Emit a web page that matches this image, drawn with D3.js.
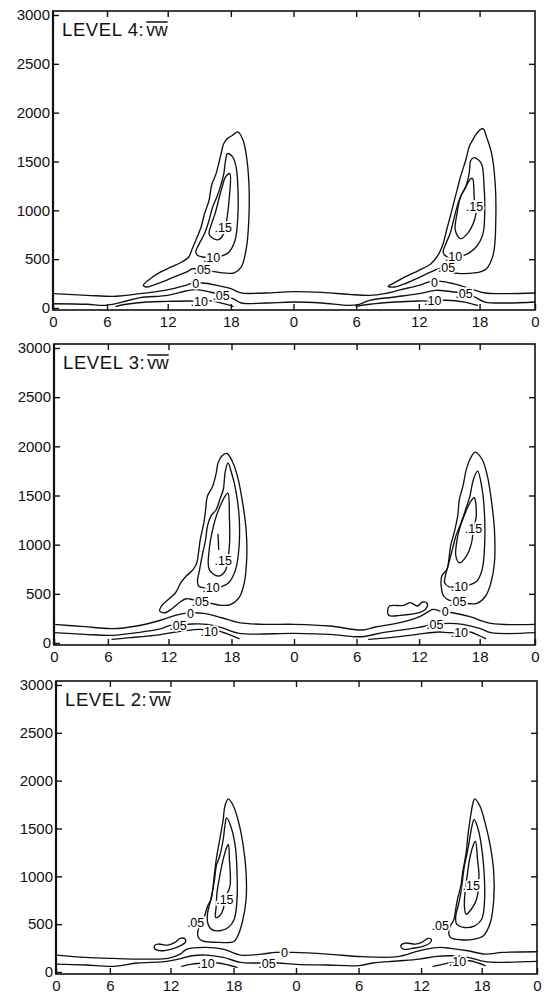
<!DOCTYPE html>
<html lang="en">
<head>
<meta charset="UTF-8">
<title>LEVEL 4, 3, 2: vw</title>
<style>
  body { margin: 0; background: #fff; }
  svg { display: block; }
  .frame { fill: none; stroke: #111; stroke-width: 1.6; }
  .contour { fill: none; stroke: #111; stroke-width: 1.35; stroke-linejoin: round; stroke-linecap: round; }
  .axis path { display: none; }
  .axis line { stroke: #111; stroke-width: 1.4; }
  .axis text { font-family: 'Liberation Sans', Arial, sans-serif; font-size: 15px; fill: #111; }
  .clabel { font-family: 'Liberation Sans', Arial, sans-serif; font-size: 12.5px; fill: #000; }
  .title { font-family: 'Liberation Sans', Arial, sans-serif; fill: #111; }
</style>
</head>
<body>
<div id="chart"></div>
<script src="https://d3js.org/d3.v7.min.js"></script>
<script>
// axis values
const hourTicks = [0, 6, 12, 18, 24, 30, 36, 42, 48];
const heightTicks = [0, 500, 1000, 1500, 2000, 2500, 3000];

// ---- LEVEL 4 : contours as [hour, height m] ----
const l4Zero = [[0,147],[3.8,130],[6.9,120],[9.3,147],[11.7,181],[13.7,232],[14.2,249],[15.3,256],[16.7,232],[18,198],[19,154],[21.3,154],[24,167],[26.7,160],[29.3,140],[31.3,130],[32.7,147],[34.3,188],[36,232],[37,266],[38.2,273],[39.4,249],[41.1,198],[42.6,154],[44.8,147],[48,154]];
const l4Neg05 = [[0,44],[3.8,38],[5.8,27],[7.5,61],[9.3,106],[12,130],[13.7,174],[14.7,188],[16,164],[17.1,130],[18.2,96],[19,51],[21.3,51],[24,61],[26.7,51],[29.3,27],[30.3,38],[31.3,79],[33.7,113],[36,147],[37.7,181],[38.7,174],[40.5,147],[41.5,113],[42.6,61],[44.8,51],[48,61]];
const l4Neg10a = [[6.9,17],[7.9,38],[9.9,61],[12,68],[14,72],[15,68],[16.2,72],[17.3,44],[18.2,17]];
const l4Neg10b = [[30,17],[31.3,38],[33.7,61],[36,72],[37.4,72],[38.7,79],[40.5,61],[41.8,27]];
const l4Out05a = [[16,379],[17.33,359],[18.33,359],[19,420],[19.5,625],[19.73,932],[19.73,1274],[19.5,1547],[19.17,1718],[18.67,1803],[18.17,1769],[17.67,1735],[17.33,1684],[17,1547],[16.6,1376],[16.17,1257],[15.93,1103],[15.5,966],[15.17,830],[14.67,693],[14.27,591],[14,522],[13.33,471],[12.33,420],[11.31,369],[10.28,300],[9.6,232],[9.93,215],[10.79,242],[12,290],[13,335],[13.83,369],[14.33,400],[15.27,393],[16,379]];
const l4In10a = [[17,529],[17.83,574],[18.4,693],[18.67,932],[18.67,1240],[18.5,1445],[18.17,1547],[17.67,1581],[17.5,1513],[17.33,1376],[17,1240],[16.67,1137],[16.27,1035],[15.93,898],[15.5,762],[15,659],[14.67,574],[14.83,540],[15.33,522],[16.17,522],[17,529]];
const l4In15a = [[17.9,1376],[17.83,1103],[17.6,898],[17.33,762],[16.83,700],[16.17,721],[15.93,762],[16.17,864],[16.5,966],[16.83,1103],[17.17,1240],[17.5,1342],[17.9,1376]];
const l4Out05b = [[39.11,369],[41.49,359],[42.75,403],[43.5,557],[43.76,932],[43.69,1274],[43.31,1581],[42.75,1752],[42.37,1837],[41.83,1803],[41.31,1718],[40.97,1650],[40.63,1513],[40.11,1342],[39.77,1205],[39.43,1069],[39.09,932],[38.74,796],[38.4,659],[37.99,557],[37.2,454],[36,386],[34.67,318],[33.5,249],[33.07,222],[33.67,215],[34.83,256],[36,311],[37.2,369],[37.89,400],[38.74,410],[39.11,369]];
const l4In10b = [[40.46,540],[41.66,625],[42.37,762],[42.56,1035],[42.49,1240],[42.19,1479],[41.49,1540],[41.14,1513],[40.97,1376],[40.63,1240],[40.11,1137],[39.77,1035],[39.43,898],[39.09,762],[38.67,659],[38.4,574],[38.57,540],[38.91,522],[39.43,529],[40.46,540]];
const l4In15b = [[41.31,1325],[41.49,1103],[41.66,1000],[41.49,898],[40.8,762],[40.11,710],[39.6,796],[39.77,966],[40.11,1137],[40.63,1240],[41.14,1325],[41.31,1325]];
const l4Labels = [[17.27,820,".15"],[16.17,522,".10"],[15.27,393,".05"],[14.67,249,"0"],[17.07,130,".05"],[15,68,".10"],
                  [41.49,1035,".15"],[39.43,529,".10"],[38.74,410,".05"],[37.54,266,"0"],[40.46,147,".05"],[37.37,72,".10"]];

// ---- LEVEL 3 ----
const l3Zero = [[0,190],[3.42,166],[6.42,146],[8.86,173],[11.3,234],[12.67,281],[13.52,301],[14.36,308],[15.37,301],[17.06,257],[18.73,207],[21.07,190],[24,190],[27.46,173],[30.5,132],[31.83,163],[34.17,207],[36.17,274],[37.39,342],[38.08,325],[39.3,308],[41.03,268],[43.22,200],[48,190]];
const l3Neg05 = [[0,105],[3.42,88],[6.42,78],[8.86,105],[11.3,146],[12.17,180],[13.18,180],[14.19,193],[15.71,190],[17.06,156],[18.73,98],[24,98],[27.46,88],[30.5,64],[32.5,105],[35.83,156],[37.56,190],[38.95,200],[40.34,190],[42.08,146],[43.22,105],[48,105]];
const l3Neg10a = [[6.42,37],[8.16,54],[10.6,78],[13.35,122],[15.03,139],[15.88,122],[16.72,122],[17.73,88],[18.73,44]];
const l3Neg10b = [[31.17,37],[33.17,54],[35.83,88],[37.91,112],[38.95,105],[39.99,105],[41.03,112],[41.9,78],[42.65,44]];
const l3Out05a = [[16.04,403],[17.06,383],[17.9,390],[18.73,461],[19.23,613],[19.47,884],[19.4,1155],[19.07,1426],[18.57,1697],[18.07,1849],[17.56,1927],[17.06,1900],[16.72,1832],[16.55,1731],[16.21,1595],[15.71,1494],[15.54,1358],[15.37,1223],[15.03,1053],[14.86,918],[14.7,816],[14.36,749],[13.69,681],[13.18,613],[12.67,511],[12,444],[11.3,376],[11.13,325],[11.65,308],[12.34,349],[13.01,410],[13.69,450],[14.36,440],[15.03,427],[16.04,403]];
const l3In10a = [[16.89,569],[17.73,613],[18.4,749],[18.73,986],[18.73,1290],[18.4,1561],[18,1731],[17.66,1832],[17.39,1731],[17.22,1561],[16.89,1460],[16.55,1358],[16.04,1290],[15.71,1189],[15.54,1053],[15.2,884],[14.97,749],[14.76,630],[14.86,579],[15.3,562],[16.04,562],[16.89,569]];
const l3In15a = [[17.66,1527],[17.8,1290],[17.8,986],[17.39,732],[16.72,681],[15.88,749],[15.88,952],[16.21,1155],[16.55,1290],[17.06,1426],[17.39,1494],[17.66,1527]];
const l3Core = [[16.72,1104],[16.78,952]];
const l3Out05b = [[40.68,403],[41.72,403],[42.65,478],[43.22,613],[43.6,816],[43.6,1155],[43.3,1426],[42.84,1697],[42.27,1866],[41.55,1941],[41.03,1866],[40.68,1765],[40.34,1595],[39.99,1460],[39.82,1290],[39.47,1121],[39.12,986],[38.95,850],[38.77,749],[38.25,681],[38.19,579],[38.43,478],[38.95,437],[39.82,427],[40.68,403]];
const l3In10b = [[40.86,586],[41.72,630],[42.27,749],[42.53,986],[42.53,1290],[42.27,1561],[41.79,1748],[41.38,1663],[41.03,1494],[40.61,1358],[40.16,1223],[39.64,1087],[39.3,952],[38.95,816],[38.6,681],[38.53,613],[38.95,572],[39.23,569],[39.99,579],[40.86,586]];
const l3In15b = [[41.45,1477],[41.66,1290],[41.38,1163],[41.2,1020],[40.68,884],[39.99,816],[39.64,884],[39.71,1020],[39.99,1155],[40.51,1307],[41.03,1426],[41.45,1477]];
const l3Blob = [[33,342],[33.17,376],[34.5,383],[35.17,410],[35.83,376],[36.35,417],[36.8,403],[36.69,349],[36,308],[34.17,281],[33.1,281],[33,342]];
const l3Labels = [[17.22,840,".15"],[16.04,562,".10"],[15.03,427,".05"],[14.1,302,"0"],[12.9,176,".05"],[15.88,122,".10"],
                  [41.38,1163,".15"],[39.99,579,".10"],[39.82,427,".05"],[38.6,325,"0"],[37.56,190,".05"],[39.99,105,".10"]];

// ---- LEVEL 2 ----
const l2Zero = [[0,177],[3.29,153],[6.34,142],[9.39,135],[11.76,142],[12.92,187],[13.57,240],[15.38,257],[17.02,240],[18.67,177],[20.7,187],[22.04,205],[23.73,205],[27.03,187],[30.34,160],[33.77,160],[35.49,212],[36.51,240],[37.89,257],[38.91,247],[40.63,222],[42.37,187],[44.25,205],[48,212]];
const l2Neg05 = [[0,83],[3.29,73],[6.34,59],[8.71,94],[11.42,108],[12.75,135],[14.05,170],[15.36,177],[17.02,153],[18.67,101],[20.18,94],[22.21,94],[24.07,80],[27.03,73],[30,66],[31.37,94],[33.77,115],[35.83,135],[37.54,163],[38.91,170],[40.63,153],[42.37,108],[44.25,101],[48,111]];
const l2Neg10a = [[13.08,59],[14.05,83],[15.38,94],[16.52,94],[17.51,73],[18.34,49]];
const l2Neg10b = [[37.2,59],[38.23,83],[39.6,108],[40.8,118],[41.66,94],[42.37,66]];
const l2Out05a = [[17.51,1809],[18,1733],[18.51,1559],[18.94,1316],[19.21,1038],[19.21,760],[18.84,517],[18.34,361],[18,316],[16.69,309],[15.05,326],[14.66,361],[14.66,448],[14.89,483],[15.21,569],[15.54,691],[15.87,760],[16.03,865],[16.2,1038],[16.36,1177],[16.69,1385],[17.02,1594],[17.18,1733],[17.51,1809]];
const l2In10a = [[17.34,1611],[17.74,1524],[18.17,1316],[18.34,1038],[18.34,760],[18.07,552],[17.51,465],[16.69,431],[15.87,448],[15.54,517],[15.54,621],[15.77,726],[15.97,830],[16.2,969],[16.36,1108],[16.69,1212],[17.02,1385],[17.18,1524],[17.34,1611]];
const l2In15a = [[17.51,1333],[17.61,1177],[17.67,899],[17.18,760],[17.02,656],[16.69,587],[16.3,569],[16.36,691],[16.43,830],[16.69,1003],[17.02,1177],[17.34,1299],[17.51,1333]];
const l2BlobA = [[10.41,274],[10.75,292],[11.76,281],[12.43,309],[12.92,351],[13.41,344],[13.41,309],[12.92,274],[12.1,240],[11.08,222],[10.47,240],[10.41,274]];
const l2Out05b = [[41.31,1809],[41.83,1733],[42.37,1559],[42.94,1316],[43.31,1038],[43.31,760],[42.94,517],[42.19,378],[41.31,344],[39.94,337],[38.91,361],[38.74,431],[38.91,483],[39.26,552],[39.43,656],[39.6,760],[39.94,899],[40.11,1038],[40.46,1246],[40.63,1420],[40.9,1628],[41.14,1767],[41.31,1809]];
const l2In10b = [[41.25,1594],[41.66,1489],[42.07,1246],[42.3,969],[42.3,726],[42,552],[41.31,483],[40.29,465],[39.53,500],[39.43,587],[39.67,691],[39.94,830],[40.11,969],[40.29,1108],[40.56,1246],[40.8,1385],[40.97,1489],[41.25,1594]];
const l2In15b = [[41.38,1368],[41.59,1177],[41.73,1003],[41.49,760],[40.97,656],[40.46,604],[40.29,691],[40.35,830],[40.56,1003],[40.8,1177],[41.14,1316],[41.38,1368]];
const l2BlobB = [[34.05,274],[34.46,302],[35.49,292],[36.17,316],[36.69,351],[37.03,337],[36.86,302],[36.17,267],[35.14,247],[34.29,240],[34.05,274]];
const l2Labels = [[17.18,760,".15"],[14.39,517,".05"],[22.89,205,"0"],[21.21,94,".05"],[15.38,94,".10"],
                  [40.97,906,".15"],[37.89,483,".05"],[39.6,108,".10"]];

const panelTitles = ["LEVEL 4:", "LEVEL 3:", "LEVEL 2:"];
const panelLines = [
  [l4Zero, l4Neg05, l4Neg10a, l4Neg10b, l4Out05a, l4In10a, l4In15a, l4Out05b, l4In10b, l4In15b],
  [l3Zero, l3Neg05, l3Neg10a, l3Neg10b, l3Out05a, l3In10a, l3In15a, l3Core, l3Out05b, l3In10b, l3In15b, l3Blob],
  [l2Zero, l2Neg05, l2Neg10a, l2Neg10b, l2Out05a, l2In10a, l2In15a, l2BlobA, l2Out05b, l2In10b, l2In15b, l2BlobB]
];
const panelLabels = [l4Labels, l3Labels, l2Labels];

// ---- layout ----
const W = 545, H = 993;
const frames = [
  {left: 53, right: 535, zero: 308, top: 15},
  {left: 54, right: 535, zero: 643, top: 348},
  {left: 56, right: 537, zero: 972, top: 685}
];
// hand-drawn hour axis is slightly uneven
const hourFrac = [0, 0.112, 0.238, 0.369, 0.499, 0.629, 0.759, 0.885, 1];

const svg = d3.select("#chart").append("svg")
  .attr("width", W)
  .attr("height", H);

svg.append("rect").attr("width", W).attr("height", H).attr("fill", "#fff");

panelTitles.forEach((title, i) => {
  const f = frames[i];
  const x = d3.scaleLinear()
    .domain(hourTicks)
    .range(hourFrac.map(p => f.left + p * (f.right - f.left)));
  const y = d3.scaleLinear().domain([0, 3000]).range([f.zero, f.top]);
  const frameTop = f.top - 4, frameBottom = f.zero + 2;

  const g = svg.append("g");

  // contours
  const openLine = d3.line().x(d => x(d[0])).y(d => y(d[1])).curve(d3.curveCatmullRom.alpha(0.5));
  const closedLine = d3.line().x(d => x(d[0])).y(d => y(d[1])).curve(d3.curveCatmullRomClosed.alpha(0.5));

  g.selectAll("path.contour")
    .data(panelLines[i])
    .join("path")
    .attr("class", "contour")
    .attr("d", pts => {
      const a = pts[0], b = pts[pts.length - 1];
      const closed = pts.length > 3 && a[0] === b[0] && a[1] === b[1];
      return closed ? closedLine(pts.slice(0, -1)) : openLine(pts);
    });

  // contour labels, white halo breaks the line under them
  g.selectAll("text.clabel")
    .data(panelLabels[i])
    .join("text")
    .attr("class", "clabel")
    .attr("x", d => x(d[0]))
    .attr("y", d => y(d[1]))
    .attr("dy", "0.36em")
    .attr("text-anchor", "middle")
    .attr("paint-order", "stroke")
    .attr("stroke", "#fff")
    .attr("stroke-width", 3.5)
    .text(d => d[2]);

  // frame
  g.append("rect")
    .attr("class", "frame")
    .attr("x", f.left)
    .attr("y", frameTop)
    .attr("width", f.right - f.left)
    .attr("height", frameBottom - frameTop);
  g.append("line")
    .attr("x1", f.left).attr("x2", f.left)
    .attr("y1", frameTop).attr("y2", frameBottom)
    .attr("stroke", "#111").attr("stroke-width", 2.2);

  // axes, ticks pointing inward
  g.append("g")
    .attr("class", "axis")
    .attr("transform", `translate(0,${frameBottom})`)
    .call(d3.axisBottom(x).tickValues(hourTicks).tickFormat(d => d % 24)
      .tickSize(-6).tickSizeOuter(0).tickPadding(6));
  g.append("g")
    .attr("class", "axis")
    .attr("transform", `translate(0,${frameTop})`)
    .call(d3.axisTop(x).tickValues(hourTicks.slice(1, -1)).tickFormat("")
      .tickSize(-6).tickSizeOuter(0));
  g.append("g")
    .attr("class", "axis")
    .attr("transform", `translate(${f.left},0)`)
    .call(d3.axisLeft(y).tickValues(heightTicks).tickFormat(d3.format("d"))
      .tickSize(-6).tickSizeOuter(0).tickPadding(3));
  g.append("g")
    .attr("class", "axis")
    .attr("transform", `translate(${f.right},0)`)
    .call(d3.axisRight(y).tickValues(heightTicks.slice(1, -1)).tickFormat("")
      .tickSize(-6).tickSizeOuter(0));

  // title  LEVEL n: vw (overlined)
  const tx = f.left + 9, ty = frameTop + 25;
  const t = g.append("text")
    .attr("class", "title")
    .attr("x", tx).attr("y", ty)
    .attr("font-size", 18.5)
    .attr("letter-spacing", 0.6)
    .text(title);
  const tw = t.node().getComputedTextLength();
  const v = g.append("text")
    .attr("class", "title")
    .attr("x", tx + tw + 2).attr("y", ty)
    .attr("font-size", 17.5)
    .text("vw");
  const vwW = v.node().getComputedTextLength();
  g.append("line")
    .attr("x1", tx + tw + 2).attr("x2", tx + tw + 2 + vwW)
    .attr("y1", ty - 14).attr("y2", ty - 14)
    .attr("stroke", "#111").attr("stroke-width", 1.5);
});
</script>
</body>
</html>
